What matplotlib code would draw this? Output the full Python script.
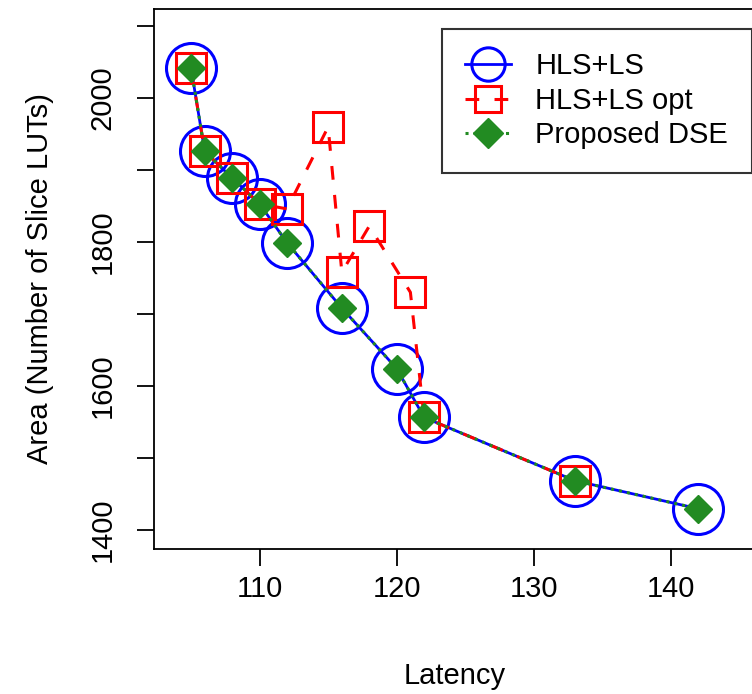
import matplotlib
matplotlib.use("Agg")
import matplotlib.pyplot as plt

plt.rcParams['font.family'] = ['Liberation Sans', 'DejaVu Sans']

# HLS+LS (also used by the proposed DSE)
lat_hls = [105, 106, 108, 110, 112, 116, 120, 122, 133, 142]
area_hls = [2042, 1926, 1889, 1853, 1799, 1708, 1624, 1556, 1468, 1429]

# HLS+LS opt
lat_opt = [105, 106, 108, 110, 112, 115, 116, 118, 121, 122, 133]
area_opt = [2042, 1926, 1889, 1853, 1846, 1960, 1758, 1822, 1730, 1556, 1468]

# Proposed DSE
lat_dse = [105, 106, 108, 110, 112, 116, 120, 122, 133, 142]
area_dse = [2042, 1926, 1889, 1853, 1799, 1708, 1624, 1556, 1468, 1429]

y_ticks = [1400, 1500, 1600, 1700, 1800, 1900, 2000, 2100]
y_labels = ['1400', '', '1600', '', '1800', '', '2000', '']
x_ticks = [110, 120, 130, 140]

fs = 21

fig = plt.figure(figsize=(7.52, 6.94), dpi=100)
ax = fig.add_axes([154 / 752, 1 - 549 / 694, 0.815, (549 - 9) / 694])

ax.plot(lat_hls, area_hls, color='blue', lw=2, ls='-', marker='o', ms=36,
        mfc='none', mec='blue', mew=2.2, label='HLS+LS')
ax.plot(lat_opt, area_opt, color='red', lw=2.2, ls=(0, (4.5, 5)), marker='s', ms=22,
        mfc='none', mec='red', mew=2.2, label='HLS+LS opt')
ax.plot(lat_dse, area_dse, color='#228B22', lw=2.2, ls=':', marker='D', ms=14,
        mfc='#228B22', mec='#228B22', label='Proposed DSE')

ax.set_xlim(102.3, 147)
ax.set_ylim(1373, 2124)
ax.set_xticks(x_ticks)
ax.set_yticks(y_ticks)
ax.set_yticklabels(y_labels, rotation=90, va='center')
ax.tick_params(axis='both', length=12, width=1.3, labelsize=fs)
ax.tick_params(axis='x', pad=7)
ax.tick_params(axis='y', pad=15)
for s in ax.spines.values():
    s.set_linewidth(1.3)

ax.set_xlabel('Latency', fontsize=fs)
ax.set_ylabel('Area (Number of Slice LUTs)', fontsize=fs)
ax.xaxis.set_label_coords(0.49, -0.21)
ax.yaxis.set_label_coords(-0.163, 0.5)

leg = ax.legend(loc='upper left', bbox_to_anchor=((442 - 154) / 612.9, 1 - 20 / 540),
                fontsize=fs, frameon=True, fancybox=False, edgecolor='black',
                handlelength=1.55, borderpad=0.8, labelspacing=0.22,
                handletextpad=0.85, borderaxespad=0)
leg.get_frame().set_linewidth(1.5)
for h, size in zip(leg.legend_handles, [24, 19, 15]):
    h.set_markersize(size)

fig.savefig('out.png', dpi=100)
